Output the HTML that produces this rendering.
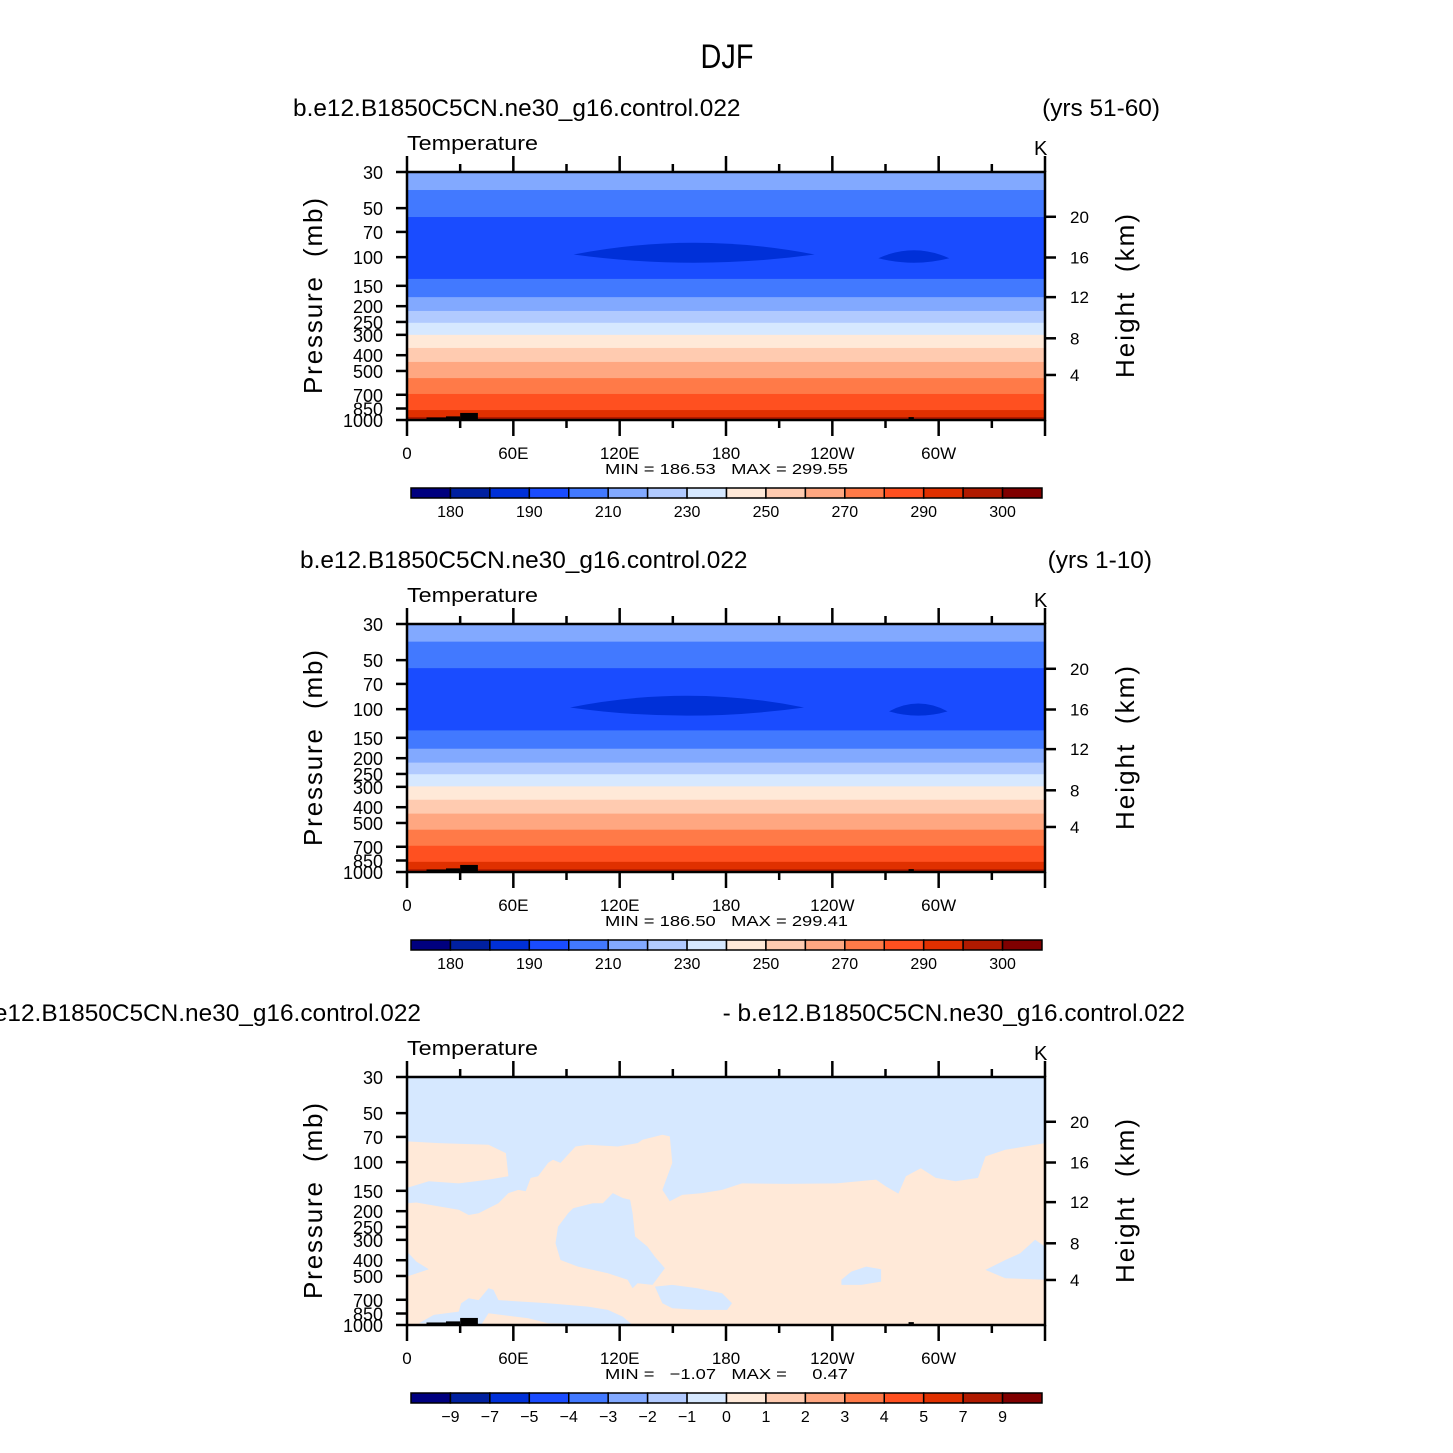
<!DOCTYPE html>
<html><head><meta charset="utf-8"><style>
html,body{margin:0;padding:0;background:#fff;}
svg{display:block;}
text{font-family:"Liberation Sans",sans-serif;fill:#000;white-space:pre;}
</style></head><body>
<svg id="chart" width="1453" height="1453" viewBox="0 0 1453 1453" xmlns="http://www.w3.org/2000/svg">
<text x="727" y="68" font-size="34" text-anchor="middle" font-weight="300" transform="translate(727,0) scale(0.85,1) translate(-727,0)">DJF</text>
</svg>
<script>
// ---------- data ----------
const palette = ["#00007f","#0020a0","#0030d8","#1a4cff","#4279ff","#82a9ff","#b1caff","#d6e8ff","#ffe9d8","#ffcbb0","#ffa781","#ff7a48","#ff5020","#e03000","#b01a00","#800000"];
const pressureTicks = [30,50,70,100,150,200,250,300,400,500,700,850,1000];
const heightTicks = ["20","16","12","8","4"];
const heightTickPressure = [56.5,100.5,176,315,529];
const lonTickLabels = ["0","60E","120E","180","120W","60W"];
const lonTicks = [0,60,120,180,240,300];
const cbLabelsAbs = ["180","190","210","230","250","270","290","300"];
const cbLabelsDiff = ["−9","−7","−5","−4","−3","−2","−1","0","1","2","3","4","5","7","9"];
const bandEdges1 = [30,38.7,56.7,136,176,214,253,300,361,440,553,692,869,959,1000];
const bandColors1 = [5,4,3,4,5,6,7,8,9,10,11,12,13,14];
const bandEdges2 = [30,38.5,56,135,175,213,251,298,360,438,550,690,866,962,1000];
const bandColors2 = [5,4,3,4,5,6,7,8,9,10,11,12,13,14];
const blobs1 = [[94,230,78.5,108.6],[266,306,92,103]];
const blobs2 = [[92,224,79.6,110],[272,305,94,104]];
const topo = [[11,22,965],[22,30,950],[30,40,905],[283,286,960]];
const peachMain = [[0,179],[5.3,177],[17.9,187],[29.2,196],[34.8,211],[40.4,206],[51.6,179],[57.2,155],[62.8,148],[67,151],[69.8,125],[74,122],[79.6,101],[82.4,96.7],[86.6,101],[95.1,80.1],[102,78.2],[118.9,80.1],[130.1,76.4],[132.9,72.9],[144.1,67.8],[148.3,69.5],[149.7,101],[144.1,148],[148.3,174],[155.3,159],[166.6,155],[177.8,148],[189,135],[214.2,136],[242.3,135],[264.7,128],[270.3,141],[277.3,156],[281.5,122],[289.9,109],[298.4,125],[309.6,131],[322.2,125],[326.4,92.2],[337.6,84],[360,76.4],[360,1000],[0,1000]];
const peachIsland = [[0,74.6],[17.9,76.4],[46,78.2],[55.8,88],[57.2,122],[46,128],[29.2,135],[12.3,131],[0,144]];
const blueIslands = [
 [[0,354],[5.3,408],[12.3,455],[0,504]],
 [[93.7,192],[104.9,179],[110.5,179],[116.1,155],[121.7,166],[125.9,170],[127.3,206],[128.7,286],[135.7,330],[139.9,381],[145.5,448],[138.5,567],[130.1,554],[127.3,595],[124.5,528],[113.3,481],[104.9,459],[96.5,438],[86.6,399],[83.8,315],[85.2,249],[90.9,206]],
 [[245.1,528],[250.7,470],[259.1,438],[267.5,455],[267.5,541],[256.3,567],[245.1,567]],
 [[326.4,459],[337.6,399],[346,363],[354.4,300],[360,330],[360,528],[337.6,516]],
 [[139.9,581],[149.7,567],[163.8,595],[177.8,639],[183.4,736],[180.6,808],[163.8,808],[149.7,790],[144.1,736]],
 [[6.7,975],[15.1,867],[29.2,827],[30.6,736],[34.8,686],[40.4,703],[46,595],[48.8,609],[51.6,703],[79.6,736],[102,771],[113.3,808],[121.7,888],[127.3,1000],[79.6,975],[68.4,909],[46,847],[41.8,1000]]
];
const minmax = ["MIN = 186.53   MAX = 299.55","MIN = 186.50   MAX = 299.41","MIN =   −1.07   MAX =     0.47"];
const leftTitles = ["b.e12.B1850C5CN.ne30_g16.control.022","b.e12.B1850C5CN.ne30_g16.control.022","b.e12.B1850C5CN.ne30_g16.control.022"];
const rightTitles = ["(yrs 51-60)","(yrs 1-10)","- b.e12.B1850C5CN.ne30_g16.control.022"];

// ---------- drawing ----------
const svg = document.getElementById('chart');
const NS = "http://www.w3.org/2000/svg";
const L = 407, R = 1045, H = 248;
function mk(tag, attrs, parent){const e=document.createElementNS(NS,tag);for(const k in attrs)e.setAttribute(k,attrs[k]);(parent||svg).appendChild(e);return e;}
function xs(lon){return L + lon/360*(R-L);}
function makeY(top){return p => top + Math.log(p/30)/Math.log(1000/30)*H;}
function poly(pts, Y){return pts.map(q=>xs(q[0]).toFixed(1)+","+Y(q[1]).toFixed(1)).join(" ");}

const tops = [172,624,1077];
tops.forEach((top, i) => {
  const Y = makeY(top);
  const g = mk('g',{});
  
  
  const lt = mk('text',{x: i==2? 421 : (i==0?293:300), y: top-56, 'font-size':24.4, 'text-anchor': i==2?'end':'start'}, g);
  lt.textContent = leftTitles[i];
  
  
  const rt = mk('text',{x: i==0?1160:(i==1?1152:1185), y: top-56, 'font-size':24.4, 'text-anchor':'end'}, g);
  rt.textContent = rightTitles[i];
  
  
  const tt = mk('text',{x:407,y:top-22,'font-size':20,textLength:131,lengthAdjust:'spacingAndGlyphs'}, g);
  tt.textContent = "Temperature";
  
  
  const kt = mk('text',{x:1034,y:top-17,'font-size':20}, g);
  kt.textContent = "K";
  
  

  if (i < 2) {
    const edges = i==0?bandEdges1:bandEdges2, cols = i==0?bandColors1:bandColors2;
    for (let b=0;b<cols.length;b++){
      const y1=Y(edges[b]), y2=Y(edges[b+1]);
      const r = mk('rect',{x:L,y:y1,width:R-L,height:y2-y1+0.5,fill:palette[cols[b]]},g);
      
      
    }
    (i==0?blobs1:blobs2).forEach(bl=>{
      const x1=xs(bl[0]),x2=xs(bl[1]),y1=Y(bl[2]),y2=Y(bl[3]),ym=(y1+y2)/2+3;
      const e = mk('path',{d:`M${x1},${ym} Q${(x1+x2)/2},${y1-9} ${x2},${ym} Q${(x1+x2)/2},${y2+8} ${x1},${ym}Z`,fill:palette[2]},g);
      
      
    });
  } else {
    const bg = mk('rect',{x:L,y:top,width:R-L,height:H,fill:palette[7]},g);
    
    
    [peachMain,peachIsland].forEach(pp=>{
      const p = mk('polygon',{points:poly(pp,Y),fill:palette[8]},g);
      
      
    });
    blueIslands.forEach(pp=>{
      const p = mk('polygon',{points:poly(pp,Y),fill:palette[7]},g);
      
      
    });
  }
  topo.forEach(t=>{
    const r = mk('rect',{x:xs(t[0]),y:Y(t[2]),width:xs(t[1])-xs(t[0]),height:top+H-Y(t[2]),fill:'#000'},g);
    
    
  });
  const fr = mk('rect',{x:L,y:top,width:R-L,height:H,fill:'none',stroke:'#000','stroke-width':2.5},g);
  
  
  pressureTicks.forEach(p=>{
    mk('line',{x1:L-11,x2:L,y1:Y(p),y2:Y(p),stroke:'#000','stroke-width':2.5},g);
    const t = mk('text',{x:L-24,y:Y(p)+7,'font-size':18,'text-anchor':'end'},g);
    t.textContent = p;
    
    
  });
  heightTicks.forEach((h,k)=>{
    const y = Y(heightTickPressure[k]);
    mk('line',{x1:R,x2:R+11,y1:y,y2:y,stroke:'#000','stroke-width':2.5},g);
    const t = mk('text',{x:R+25,y:y+6,'font-size':17},g);
    t.textContent = h;
    
    
  });
  for (let lon=0; lon<=360; lon+=30){
    const major = lon%60==0, x = xs(lon);
    mk('line',{x1:x,x2:x,y1:top,y2:top-(major?16:8),stroke:'#000','stroke-width':2.5},g);
    mk('line',{x1:x,x2:x,y1:top+H,y2:top+H+(major?16:8),stroke:'#000','stroke-width':2.5},g);
  }
  lonTicks.forEach((lon,k)=>{
    const t = mk('text',{x:xs(lon),y:top+H+39,'font-size':17,'text-anchor':'middle'},g);
    t.textContent = lonTickLabels[k];
    
    
  });
  const mm = mk('text',{x:605,y:top+H+54,'font-size':15,textLength:243,lengthAdjust:'spacingAndGlyphs'},g);
  mm.textContent = minmax[i];
  
  
  const yt = mk('text',{x:0,y:0,'font-size':26,'text-anchor':'middle',textLength:196,transform:`translate(322,${top+124}) rotate(-90)`},g);
  yt.textContent = "Pressure  (mb)";
  
  
  const ht = mk('text',{x:0,y:0,'font-size':26,'text-anchor':'middle',textLength:164,transform:`translate(1134,${top+124}) rotate(-90)`},g);
  ht.textContent = "Height  (km)";
  
  
  const cy = top+316, cw = (1042-411)/16;
  for (let c=0;c<16;c++){
    const r = mk('rect',{x:411+c*cw,y:cy,width:cw,height:10,fill:palette[c],stroke:'#000','stroke-width':1.5},g);
    
    
  }
  const labs = i<2?cbLabelsAbs:cbLabelsDiff;
  labs.forEach((s,k)=>{
    const idx = i<2 ? 1+2*k : 1+k;
    const t = mk('text',{x:411+idx*cw,y:cy+29,'font-size':16,'text-anchor':'middle'},g);
    t.textContent = s;
    
    
  });
});
</script>
</body></html>
